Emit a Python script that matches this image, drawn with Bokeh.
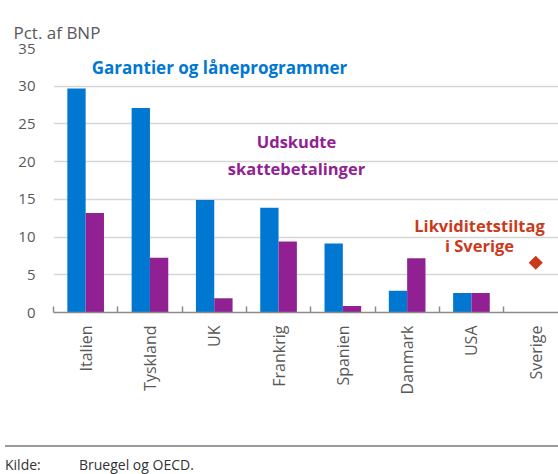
import math
from bokeh.plotting import figure
from bokeh.models import Range1d, FixedTicker, Label, Div
from bokeh.layouts import column
from bokeh.embed import file_html
from bokeh.resources import INLINE

# ---- data ----
categories = ["Italien", "Tyskland", "UK", "Frankrig", "Spanien", "Danmark", "USA", "Sverige"]
garantier = [29.7, 27.1, 14.9, 13.9, 9.15, 2.9, 2.6]          # blue
udskudte = [13.2, 7.25, 1.9, 9.4, 0.85, 7.2, 2.6]             # purple
sverige_idx = [7]
sverige_likviditet = [6.6]                                    # red diamond
y_ticks = [0, 5, 10, 15, 20, 25, 30, 35]

BLUE = "#0078D2"
PURPLE = "#912192"
RED = "#C93A1B"
GRAY_TXT = "#595959"
FONT = "Open Sans"

# ---- layout in page pixels ----
W = 558
H_MAIN = 416
H_FOOT = 58
LEFT, TOP, BOTTOM_PX = 53, 48, 312      # frame edges in page pixels
CAT_PX = 64.3
YMAX = 35
PXY = (BOTTOM_PX - TOP) / YMAX
XEND = (W - LEFT) / CAT_PX

def dx(px):
    return (px - LEFT) / CAT_PX

def dy(py):
    return (BOTTOM_PX - py) / PXY

p = figure(width=W, height=H_MAIN, output_backend="svg", toolbar_location=None,
           x_range=Range1d(0, XEND), y_range=Range1d(0, YMAX),
           min_border_left=LEFT, min_border_right=0, min_border_top=TOP,
           min_border_bottom=H_MAIN - BOTTOM_PX)
p.outline_line_color = None
p.background_fill_color = "white"
p.border_fill_color = "white"

p.title.text = "Pct. af BNP"
p.title.align = "left"
p.title.offset = 13 - LEFT
p.title.text_font = FONT
p.title.text_font_size = "17px"
p.title.text_font_style = "normal"
p.title.text_color = GRAY_TXT
p.title.vertical_align = "top"
p.title.standoff = 5

centers = [i + 0.5 for i in range(len(categories))]
bw = 0.285
p.vbar(x=[centers[i] - bw / 2 for i in range(len(garantier))], top=garantier, width=bw,
       fill_color=BLUE, line_color=None)
p.vbar(x=[centers[i] + bw / 2 for i in range(len(udskudte))], top=udskudte, width=bw,
       fill_color=PURPLE, line_color=None)
p.scatter(x=[centers[i] for i in sverige_idx], y=sverige_likviditet, marker="square",
          angle=math.pi / 4, size=10, fill_color=RED, line_color=None)

# x axis
p.xaxis.ticker = FixedTicker(ticks=centers, minor_ticks=list(range(len(categories))))
p.xaxis.major_label_overrides = {c: lab for c, lab in zip(centers, categories)}
p.xaxis.major_label_orientation = math.pi / 2
p.xaxis.major_tick_in = 0
p.xaxis.major_tick_out = 0
p.xaxis.minor_tick_in = 6
p.xaxis.minor_tick_out = 0
p.xaxis.minor_tick_line_color = "#8c8c8c"
p.xaxis.minor_tick_line_width = 1.5
p.xaxis.axis_line_color = "#8c8c8c"
p.xaxis.axis_line_width = 1.5
p.xaxis.major_label_standoff = 13
p.xaxis.major_label_text_font = FONT
p.xaxis.major_label_text_font_size = "16px"
p.xaxis.major_label_text_color = GRAY_TXT

# y axis
p.yaxis.ticker = FixedTicker(ticks=y_ticks)
p.yaxis.axis_line_color = None
p.yaxis.major_tick_in = 0
p.yaxis.major_tick_out = 0
p.yaxis.minor_tick_line_color = None
p.yaxis.major_label_standoff = 18
p.yaxis.major_label_text_font = FONT
p.yaxis.major_label_text_font_size = "15px"
p.yaxis.major_label_text_color = GRAY_TXT

p.xgrid.grid_line_color = None
p.ygrid.ticker = FixedTicker(ticks=y_ticks)
p.ygrid.grid_line_color = "#d6d6d6"
p.ygrid.grid_line_width = 1.5

def add_label(text, px, py, color, size="16.5px"):
    p.add_layout(Label(x=dx(px), y=dy(py), text=text, text_color=color,
                       text_font=FONT, text_font_size=size, text_font_style="bold",
                       text_align="center", text_baseline="middle"))

add_label("Garantier og låneprogrammer", 219, 67, BLUE, size="17px")
add_label("Udskudte", 296, 141, PURPLE)
add_label("skattebetalinger", 296, 168, PURPLE)
add_label("Likviditetstiltag", 479, 225, RED)
add_label("i Sverige", 479, 245, RED)

# ---- footer (source note) ----
footer_html = (
    '<div style="width:558px;">'
    '<div style="height:24px"></div>'
    '<div style="height:2px;background-color:#9a9a9a;"></div>'
    '<div style="margin-top:9px;font-family:\'Open Sans\';font-size:14px;color:#333333;'
    'line-height:17px;white-space:nowrap;">'
    '<span style="display:inline-block;width:74px">Kilde:</span>Bruegel og OECD.</div>'
    '</div>'
)
footer = Div(text=footer_html, width=W, height=H_FOOT)

layout = column(p, footer, spacing=0)

open("out.html", "w").write(file_html(layout, INLINE))
